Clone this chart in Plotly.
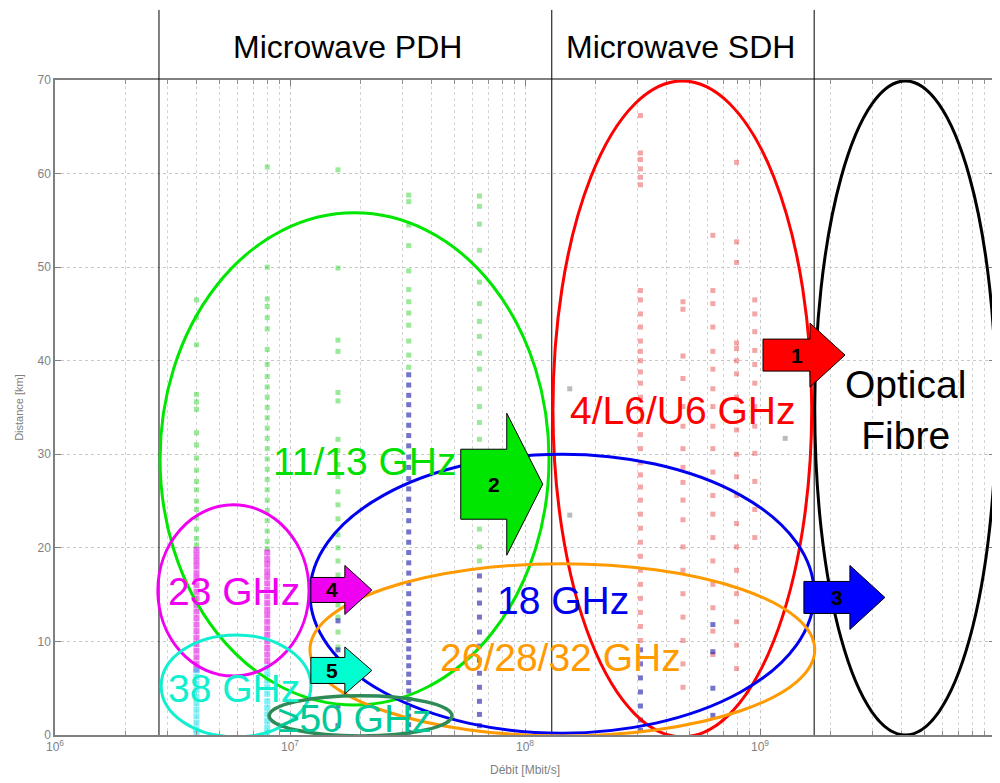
import math
import plotly.graph_objects as go

# ---------------- data ----------------
X_TICK_VALS = [1e6, 1e7, 1e8, 1e9, 1e10]
X_TICK_TEXT = ["10<sup>6</sup>", "10<sup>7</sup>", "10<sup>8</sup>", "10<sup>9</sup>", "10<sup>10</sup>"]
Y_TICK_VALS = [0, 10, 20, 30, 40, 50, 60, 70]

# boundaries between technology domains (bit/s)
BOUNDARIES = [2.77e6, 1.30e8, 1.70e9]
SEGMENT_LABELS = ["Microwave PDH", "Microwave SDH"]
SEGMENT_CENTERS = [1.75e7, 4.6e8]

# 23 GHz (magenta)
mag_rate = [4e6, 8e6]
mag_4 = [19.8, 19.2, 18.6, 18.0, 17.3, 16.7, 16.0, 15.3, 14.6, 13.9, 13.2, 12.5, 11.8, 11.1,
         10.4, 9.7, 9.0, 8.3, 7.6, 7.0]
mag_8 = [19.5, 18.8, 18.2, 17.5, 16.9, 16.2, 15.5, 14.8, 14.1, 13.4, 12.8, 12.1, 11.4, 10.7,
         10.0, 9.3, 8.6, 7.9]
# 38 GHz (cyan)
cya_rate = [4e6, 8e6]
cya_4 = [6.9, 6.2, 5.5, 4.8, 4.1, 3.4, 2.7, 2.0, 1.3, 0.6, 0.1]
cya_8 = [7.2, 6.5, 5.8, 5.1, 4.4, 3.6, 2.9, 2.2, 1.5, 0.8, 0.2]
# 11/13 GHz (green)
grn_rate = [4e6, 8e6, 16e6, 32e6, 64e6]
grn_4 = [46.5, 44.6, 41.7, 36.4, 35.6, 34.8, 32.3, 31.0, 29.6, 28.3, 27.1, 26.2, 25.0, 24.1,
         23.2, 22.0, 21.0, 20.3]
grn_8 = [60.7, 50.0, 46.6, 45.8, 44.6, 43.4, 41.2, 39.6, 38.3, 37.2, 36.1, 35.0, 33.9, 32.8,
         31.7, 30.6, 29.5, 28.4, 27.3, 26.2, 25.1, 24.0, 22.9, 21.8, 20.7, 19.9]
grn_16 = [60.4, 49.9, 42.2, 41.0, 36.6, 35.7, 31.6, 30.4, 28.9, 27.6, 26.0, 24.6, 23.1, 21.4,
          20.0, 18.6, 17.1, 15.4, 13.9, 12.6, 11.0, 9.4, 8.0]
grn_32 = [57.7, 57.0, 54.5, 52.3, 49.6, 47.6, 46.3, 45.1, 43.8, 42.1, 40.6, 39.3]
grn_64 = [57.6, 56.5, 54.6, 51.8, 48.4, 46.1, 44.2, 42.6, 40.8, 39.1, 37.0, 35.1, 33.4, 31.6,
          29.4, 28.1, 26.4, 25.1, 23.4, 22.0, 20.1, 18.6]
# 18 GHz (blue)
blu_rate = [16e6, 32e6, 64e6, 3.1e8, 6.3e8]
blu_16 = [12.2, 9.1, 6.0, 3.1, 1.0]
blu_32 = [38.5, 37.4, 36.3, 35.3, 34.2, 33.1, 32.0, 30.9, 29.7, 28.6, 27.4, 26.3, 25.2, 24.0,
          22.9, 21.7, 20.6, 19.5, 18.4, 17.3, 16.2, 15.1, 14.0, 13.0, 12.0, 11.1, 10.1, 9.2,
          8.3, 7.4, 6.5, 5.6, 4.7, 3.8, 2.9, 2.0, 1.1, 0.3]
blu_64 = [17.0, 15.5, 14.1, 12.6, 11.0, 9.5, 8.0, 6.6, 5.1, 3.6, 2.2, 1.0]
blu_310 = [9.1, 7.6, 6.1, 4.6, 3.1, 1.6, 0.5]
blu_630 = [11.8, 8.9, 5.0, 2.1]
# 4/L6/U6 GHz (red)
red_rate = [3.1e8, 4.7e8, 6.3e8, 7.95e8, 9.5e8]
red_310 = [66.2, 62.2, 61.5, 60.5, 59.6, 58.8, 47.5, 46.5, 45.0, 43.6, 42.1, 41.0, 40.0, 38.8,
           37.6, 36.1, 34.8, 33.5, 32.1, 30.6, 29.1, 27.8, 26.5, 25.1, 23.6, 22.1, 20.6, 19.1,
           17.6, 16.1, 14.6, 13.1, 11.6, 10.1]
red_470 = [46.3, 45.5, 40.5, 38.1, 35.1, 33.0, 30.6, 28.6, 27.0, 25.1, 23.0, 20.1, 17.6, 15.1,
           12.6, 10.1, 7.6, 5.1]
red_630 = [53.4, 47.5, 46.1, 43.6, 41.0, 39.1, 37.0, 35.1, 33.0, 30.6, 28.1, 25.6, 23.6, 21.1,
           18.6, 16.1, 13.6, 11.1, 8.6]
red_795 = [61.2, 52.7, 50.5, 41.9, 41.3, 40.0, 38.6, 36.1, 34.6, 32.6, 30.0, 27.6, 25.6, 22.6,
           20.1, 17.6, 15.1, 12.1, 9.6, 7.1]
red_950 = [46.5, 45.0, 43.1, 41.1, 39.6, 37.6, 35.1, 33.0, 30.1, 27.1, 24.1, 21.1]
# isolated grey points
oth_rate = [1.55e8, 1.55e8, 1.28e9]
oth_km = [37.0, 23.5, 31.7]

FONT = "Liberation Sans, Arial, sans-serif"

# ---------------- helpers ----------------
def streaks(rates, lists):
    xs, ys = [], []
    for r, lst in zip(rates, lists):
        xs += [r] * len(lst)
        ys += lst
    return xs, ys

series = [
    ("4/L6/U6 GHz", streaks(red_rate, [red_310, red_470, red_630, red_795, red_950]), "rgba(220,0,0,0.35)", 5),
    ("11/13 GHz", streaks(grn_rate, [grn_4, grn_8, grn_16, grn_32, grn_64]), "rgba(0,200,0,0.4)", 5),
    ("18 GHz", streaks(blu_rate, [blu_16, blu_32, blu_64, blu_310, blu_630]), "rgba(0,0,160,0.55)", 5),
    ("23 GHz", streaks(mag_rate, [mag_4, mag_8]), "rgba(225,0,225,0.55)", 6),
    ("38 GHz", streaks(cya_rate, [cya_4, cya_8]), "rgba(0,225,240,0.5)", 6),
    ("other", (oth_rate, oth_km), "rgba(120,120,120,0.5)", 5),
]

fig = go.Figure()
for name, (xs, ys), col, sz in series:
    fig.add_trace(go.Scatter(x=xs, y=ys, mode="markers", name=name,
                             marker=dict(symbol="square", size=sz, color=col, line=dict(width=0)),
                             showlegend=False, hoverinfo="skip"))

shapes = []
# domain boundaries, extending above the axes
for b in BOUNDARIES:
    shapes.append(dict(type="line", xref="x", yref="paper", x0=b, x1=b, y0=0, y1=1.107,
                       line=dict(color="black", width=1)))

# ellipses (data-space bounding boxes)
ellipses = [
    (2.80e6, 1.265e8, 3.2, 55.8, "#00E600", 3),
    (1.315e8, 1.66e9, -0.2, 69.9, "#FF0000", 3),
    (1.71e9, 1.01e10, 0.0, 69.9, "black", 3),
    (1.216e7, 1.70e9, 0.2, 30.0, "#0000F0", 3),
    (1.216e7, 1.71e9, -0.1, 18.3, "#FF9A00", 3),
    (2.74e6, 1.205e7, 6.3, 24.6, "#F000F0", 3),
    (2.83e6, 1.227e7, -0.2, 10.7, "#10F0D0", 3),
    (8.15e6, 4.89e7, -0.1, 4.2, "#2E8B57", 3.5),
]
for x0, x1, y0, y1, col, w in ellipses:
    shapes.append(dict(type="circle", xref="x", yref="y", x0=x0, x1=x1, y0=y0, y1=y1,
                       line=dict(color=col, width=w), layer="above"))

# block arrows: tip anchored in data space, outline in pixels relative to the tip
def arrow_path(body_back, head_back, body_half, head_half):
    return (f"M {-body_back},{body_half} L {-head_back},{body_half} L {-head_back},{head_half} "
            f"L 0,0 L {-head_back},{-head_half} L {-head_back},{-body_half} L {-body_back},{-body_half} Z")

arrows = [
    # tip rate, tip km, body back, head back, body half, head half, fill, label
    (2.30e9, 40.6, 82, 35, 16, 32, "#FF0000", "1"),
    (1.19e8, 26.8, 82, 36, 35, 71, "#00E600", "2"),
    (3.40e9, 14.7, 81, 35, 16, 32, "#0000FF", "3"),
    (2.23e7, 15.5, 61, 27, 12.5, 24.5, "#F000F0", "4"),
    (2.23e7, 6.9, 61, 27, 13, 23.5, "#00FFD0", "5"),
]
annotations = []
for tx, ty, bb, hb, bh, hh, col, lab in arrows:
    shapes.append(dict(type="path", xref="x", yref="y", xsizemode="pixel", ysizemode="pixel",
                       xanchor=tx, yanchor=ty, path=arrow_path(bb, hb, bh, hh),
                       fillcolor=col, line=dict(color="black", width=1), layer="above"))
    lx = math.log10(tx) - (hb + 13) / 235.0
    annotations.append(dict(x=lx, y=ty, xref="x", yref="y", text=f"<b>{lab}</b>", showarrow=False,
                            xanchor="center", yanchor="middle",
                            font=dict(size=21, color="black", family=FONT)))

# band labels
labels = [
    ("11/13 GHz", 2.08e7, 29.2, "#00E000"),
    ("4/L6/U6 GHz", 4.70e8, 34.7, "#FF0000"),
    ("Optical<br>Fibre", 4.14e9, 34.7, "black"),
    ("18 GHz", 1.45e8, 14.4, "#0000F0"),
    ("26/28/32 GHz", 1.42e8, 8.3, "#FF9A00"),
    ("23 GHz", 5.78e6, 15.3, "#F000F0"),
    ("38 GHz", 5.78e6, 5.0, "#10F0D0"),
    ("≥50 GHz", 1.89e7, 1.8, "#00C896"),
]
for txt, x, y, col in labels:
    annotations.append(dict(x=math.log10(x), y=y, xref="x", yref="y", text=txt, showarrow=False,
                            xanchor="center", yanchor="middle",
                            font=dict(size=39, color=col, family=FONT)))

for txt, x in zip(SEGMENT_LABELS, SEGMENT_CENTERS):
    annotations.append(dict(x=math.log10(x), y=1.050, xref="x", yref="paper", text=txt,
                            xanchor="center", yanchor="middle",
                            showarrow=False, font=dict(size=32, color="black", family=FONT)))

# axis titles
annotations.append(dict(x=0.5, y=-0.053, xref="paper", yref="paper", text="Débit [Mbit/s]",
                        xanchor="center", yanchor="middle",
                        showarrow=False, font=dict(size=12, color="#808080", family=FONT)))
annotations.append(dict(x=-0.039, y=0.5, xref="paper", yref="paper", text="Distance [km]",
                        xanchor="center", yanchor="middle",
                        textangle=-90, showarrow=False, font=dict(size=11, color="#808080", family=FONT)))

minor_x = [k * 10 ** n for n in range(6, 10) for k in range(2, 10)]

# page body adds an 8px margin, so the figure is 8px smaller than the window
fig.update_layout(
    width=992, height=775,
    margin=dict(l=47, r=5, t=72, b=48, autoexpand=False),
    paper_bgcolor="white", plot_bgcolor="white",
    shapes=shapes, annotations=annotations,
    showlegend=False,
    xaxis=dict(type="log", range=[6, 10], tickmode="array", tickvals=X_TICK_VALS, ticktext=X_TICK_TEXT,
               automargin=False,
               ticks="inside", ticklen=6, tickcolor="#808080", showline=True, linecolor="#808080",
               linewidth=1.5, mirror="allticks", showgrid=True, gridcolor="#c8c8c8", griddash="dot",
               gridwidth=1, zeroline=False,
               tickfont=dict(size=12, color="#808080", family=FONT),
               minor=dict(tickmode="array", tickvals=minor_x, ticks="inside", ticklen=4,
                          tickcolor="#909090", showgrid=True, gridcolor="#d4d4d4", griddash="dot")),
    yaxis=dict(range=[0, 70], tickmode="array", tickvals=Y_TICK_VALS, ticks="inside", ticklen=6,
               automargin=False,
               tickcolor="#808080", showline=True, linecolor="#808080", linewidth=1.5, mirror="allticks",
               showgrid=True, gridcolor="#c8c8c8", griddash="dot", zeroline=False,
               tickfont=dict(size=12, color="#808080", family=FONT)),
)

fig.write_html("out.html")
